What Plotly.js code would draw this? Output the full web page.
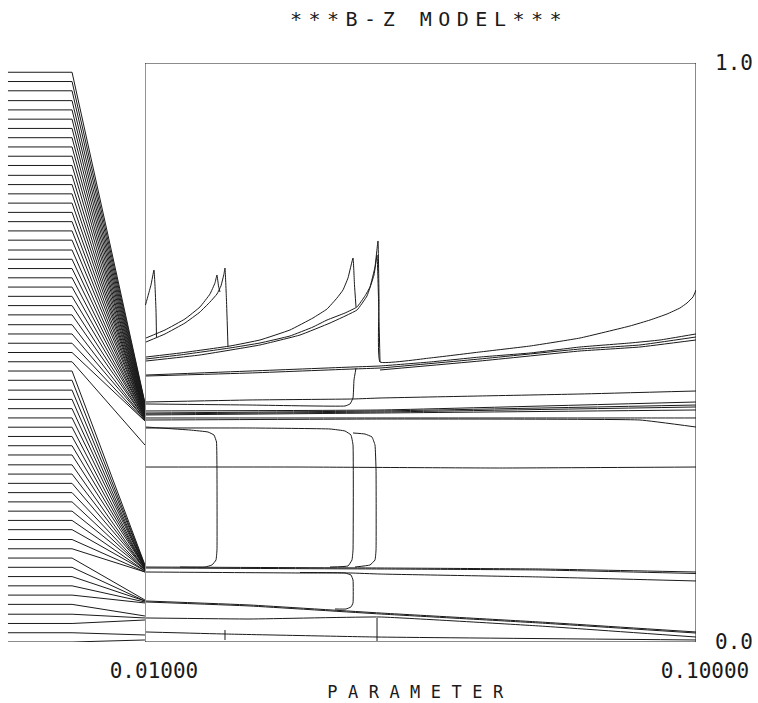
<!DOCTYPE html>
<html>
<head>
<meta charset="utf-8">
<script src="https://cdn.plot.ly/plotly-3.0.1.min.js"></script>
<style>html,body{margin:0;padding:0;background:#fff;}#chart{width:758px;height:703px;}</style>
</head>
<body>
<div id="chart"></div>
<script>
// ---- left panel: initial values and the attractor value each one settles to at PARAMETER = 0.01
const initValues = [0.984,0.968,0.952,0.935,0.919,0.903,0.887,0.871,0.855,0.839,0.823,0.806,0.790,0.774,0.758,0.742,0.726,0.710,0.694,0.677,0.661,0.645,0.629,0.613,0.597,0.581,0.565,0.548,0.532,0.516,0.500,0.484,0.468,0.452,0.435,0.419,0.403,0.387,0.371,0.355,0.339,0.323,0.306,0.290,0.274,0.258,0.242,0.226,0.210,0.194,0.177,0.161,0.145,0.129,0.113,0.097,0.081,0.065,0.048,0.032,0.016,0.000];
const settledValues = [0.4128,0.4111,0.4093,0.4076,0.4059,0.4042,0.4024,0.4007,0.3990,0.3990,0.3972,0.3972,0.3955,0.3955,0.3955,0.3938,0.3938,0.3921,0.3921,0.3903,0.3903,0.3886,0.3886,0.3869,0.3869,0.3851,0.3851,0.3834,0.3834,0.3817,0.3817,
  0.3402,
  0.1330,0.1313,0.1313,0.1295,0.1295,0.1295,0.1278,0.1278,0.1278,0.1278,0.1261,0.1261,0.1261,0.1244,0.1244,0.1244,0.1226,0.1226,0.1209,0.1209,
  0.0725,0.0708,0.0708,0.0691,0.0674,
  0.0449,0.0415,0.0380,
  0.0121,0.0035];

// ---- main panel branches (PARAMETER, value)
const spike1X = [0.01008,0.01049,0.01098,0.01147,0.01163,0.01180,0.01188];
const spike1Y = [0.5820,0.5976,0.6166,0.6425,0.6166,0.5734,0.5268];
const branchAX = [0.01016,0.01327,0.01653,0.01898,0.02062,0.02143,0.02176,0.02201,0.02225];
const branchAY = [0.5250,0.5389,0.5579,0.5786,0.6010,0.6200,0.6339,0.6149,0.6045];
const branchBX = [0.01016,0.01327,0.01653,0.01898,0.02062,0.02176,0.02241,0.02290,0.02307,0.02331,0.02356];
const branchBY = [0.5181,0.5320,0.5509,0.5699,0.5872,0.6010,0.6149,0.6356,0.6459,0.5907,0.5095];
const branchCX = [0.01016,0.01572,0.02388,0.02878,0.03368,0.03744,0.03973,0.04136,0.04234,0.04316,0.04398,0.04422,0.04447];
const branchCY = [0.4922,0.4991,0.5112,0.5216,0.5389,0.5596,0.5751,0.5941,0.6079,0.6287,0.6632,0.6166,0.5786];
const branchDX = [0.01016,0.01572,0.02388,0.02878,0.03368,0.03744,0.03973,0.04267,0.04463,0.04593,0.04675,0.04757,0.04806,0.04823,0.04839,0.05655,0.06472,0.07289,0.08105,0.08922,0.09249,0.09527,0.09739,0.09853,0.09951,0.1];
const branchDY = [0.4888,0.4957,0.5078,0.5164,0.5285,0.5440,0.5561,0.5682,0.5786,0.5976,0.6131,0.6477,0.6926,0.5907,0.4836,0.4905,0.5009,0.5112,0.5250,0.5458,0.5561,0.5665,0.5769,0.5855,0.5959,0.6079];
const branchD2X = [0.01016,0.01898,0.02878,0.03532,0.04022,0.04463,0.04626,0.04741,0.04790,0.04815,0.04839];
const branchD2Y = [0.4853,0.4957,0.5130,0.5302,0.5509,0.5734,0.5976,0.6339,0.6684,0.5907,0.4836];
const branchF1X = [0.01016,0.02715,0.04398,0.04839,0.05655,0.06472,0.07289,0.08105,0.08922,0.09412,0.1];
const branchF1Y = [0.4611,0.4680,0.4750,0.4767,0.4836,0.4922,0.4991,0.5095,0.5164,0.5216,0.5320];
const branchF2X = [0.01016,0.02715,0.04398,0.04839,0.06472,0.08105,0.09085,0.1];
const branchF2Y = [0.4594,0.4646,0.4715,0.4732,0.4888,0.5060,0.5130,0.5268];
const branchF3X = [0.04839,0.06472,0.08105,0.09085,0.1];
const branchF3Y = [0.4698,0.4853,0.5026,0.5095,0.5216];
const branchGX = [0.01016,0.02715,0.04267,0.04349,0.04398,0.04414,0.04447];
const branchGY = [0.4111,0.4093,0.4076,0.4111,0.4214,0.4525,0.4732];
const branchHX = [0.01016,0.02715,0.04398,0.04839,0.06472,0.08105,0.1];
const branchHY = [0.4145,0.4180,0.4197,0.4214,0.4249,0.4283,0.4335];
const bandX = [0.01016,0.04839,0.1];
const band1Y = [0.3990,0.4007,0.4145];
const band2Y = [0.3955,0.3990,0.4093];
const band3Y = [0.3938,0.3972,0.4059];
const band4Y = [0.3921,0.3955,0.4007];
const band5X = [0.01016,0.04839,0.09085,0.1];
const band5Y = [0.3869,0.3869,0.3869,0.3869];
const band6Y = [0.3834,0.3851,0.3834,0.3713];
const loop1X = [0.01016,0.01735,0.02029,0.02127,0.02168,0.02176,0.02176,0.02160,0.02094,0.01980,0.01572];
const loop1Y = [0.3713,0.3661,0.3627,0.3575,0.3454,0.2971,0.1589,0.1416,0.1330,0.1295,0.1295];
const loop2X = [0.01016,0.02715,0.04022,0.04267,0.04365,0.04398,0.04398,0.04381,0.04316,0.04022];
const loop2Y = [0.3696,0.3696,0.3679,0.3644,0.3575,0.3402,0.1589,0.1416,0.1313,0.1295];
const loop3X = [0.04398,0.04593,0.04708,0.04757,0.04774,0.04774,0.04757,0.04675,0.04430];
const loop3Y = [0.3610,0.3592,0.3541,0.3402,0.2971,0.1589,0.1416,0.1330,0.1295];
const midX = [0.01016,0.03532,0.06788,0.1];
const midY = [0.3022,0.3022,0.3005,0.3022];
const lowX = [0.01016,0.04839,0.07452,0.1];
const low1Y = [0.1295,0.1278,0.1261,0.1209];
const low2Y = [0.1278,0.1261,0.1244,0.1183];
const low3X = [0.01016,0.03532,0.04349,0.04839,0.07452,0.1];
const low3Y = [0.1209,0.1192,0.1192,0.1174,0.1123,0.1054];
const loop4X = [0.03532,0.04267,0.04365,0.04398,0.04398,0.04365,0.04283,0.04103];
const loop4Y = [0.1200,0.1192,0.1157,0.1071,0.0674,0.0605,0.0570,0.0570];
const baseX = [0.01016,0.02715,0.04839,0.07452,0.1];
const base1Y = [0.0708,0.0639,0.0501,0.0345,0.0173];
const base2Y = [0.0691,0.0622,0.0484,0.0328,0.0155];
const base3Y = [0.0415,0.0397,0.0432,0.0276,0.0086];
const floorX = [0.01016,0.02307,0.04790,0.1];
const floorY = [0.0173,0.0138,0.0086,0.0035];
const jump1X = [0.02307,0.02307];
const jump1Y = [0.0207,0.0035];
const jump2X = [0.04790,0.04790];
const jump2Y = [0.0415,0.0017];

// tick labels
const xTickVals = [0.01, 0.1];
const xTickText = ['0.01000', '0.10000'];
const yTickVals = [0, 1];
const yTickText = ['0.0', '1.0'];

const INK = '#1a1a1a';
const MONO = 'DejaVu Sans Mono, monospace';

// left panel geometry (panel-relative units)
const LEFT_START = 0.055, LEFT_KNEE = 0.497, LEFT_END = 1.0;

const traces = [];
initValues.forEach((v, i) => {
  traces.push({
    type: 'scatter', mode: 'lines', xaxis: 'x2', yaxis: 'y',
    x: [LEFT_START, LEFT_KNEE, LEFT_END], y: [v, v, settledValues[i]],
    line: {color: INK, width: 1}, hoverinfo: 'skip'
  });
});

const branches = [
  [spike1X, spike1Y], [branchAX, branchAY], [branchBX, branchBY],
  [branchCX, branchCY], [branchDX, branchDY], [branchD2X, branchD2Y],
  [branchF1X, branchF1Y], [branchF2X, branchF2Y], [branchF3X, branchF3Y],
  [branchGX, branchGY], [branchHX, branchHY],
  [bandX, band1Y], [bandX, band2Y], [bandX, band3Y], [bandX, band4Y],
  [band5X, band5Y], [band5X, band6Y],
  [loop1X, loop1Y], [loop2X, loop2Y], [loop3X, loop3Y],
  [midX, midY], [lowX, low1Y], [lowX, low2Y], [low3X, low3Y], [loop4X, loop4Y],
  [baseX, base1Y], [baseX, base2Y], [baseX, base3Y], [floorX, floorY],
  [jump1X, jump1Y], [jump2X, jump2Y]
];
branches.forEach(([bx, by]) => {
  traces.push({
    type: 'scatter', mode: 'lines', xaxis: 'x', yaxis: 'y',
    x: bx, y: by, line: {color: INK, width: 1, shape: 'spline', smoothing: 0.3}, hoverinfo: 'skip'
  });
});

const layout = {
  width: 758, height: 703,
  margin: {l: 0, r: 62, t: 63, b: 61},
  paper_bgcolor: '#ffffff', plot_bgcolor: '#ffffff',
  showlegend: false,
  title: {
    text: '<span style="letter-spacing:6.5px">***B-Z MODEL***</span>',
    font: {family: MONO, size: 20, color: INK},
    x: 0.566, xanchor: 'center', xref: 'container',
    y: 0.973, yanchor: 'middle', yref: 'container'
  },
  xaxis: {
    domain: [0.2083, 1], range: [0.01, 0.1],
    showgrid: false, zeroline: false, showline: false, ticks: '',
    tickvals: xTickVals, ticktext: xTickText,
    tickfont: {family: MONO, size: 21, color: INK},
    ticklabelshift: 9, ticklabelstandoff: 14,
    title: {text: '<span style="letter-spacing:10.5px">PARAMETER</span>', font: {family: MONO, size: 17, color: INK}, standoff: 4}
  },
  xaxis2: {
    domain: [0, 0.2083], range: [0, 1], anchor: 'y',
    visible: false, showgrid: false, zeroline: false
  },
  yaxis: {
    range: [0, 1], side: 'right',
    showgrid: false, zeroline: false, showline: false, ticks: '',
    tickvals: yTickVals, ticktext: yTickText,
    tickfont: {family: MONO, size: 21, color: INK},
    ticklabelstandoff: 18
  },
  shapes: [{
    type: 'rect', xref: 'x', yref: 'y', x0: 0.01, x1: 0.1, y0: 0, y1: 1,
    line: {color: INK, width: 1}, layer: 'above'
  }]
};

Plotly.newPlot('chart', traces, layout, {staticPlot: true, displayModeBar: false});
</script>
</body>
</html>
